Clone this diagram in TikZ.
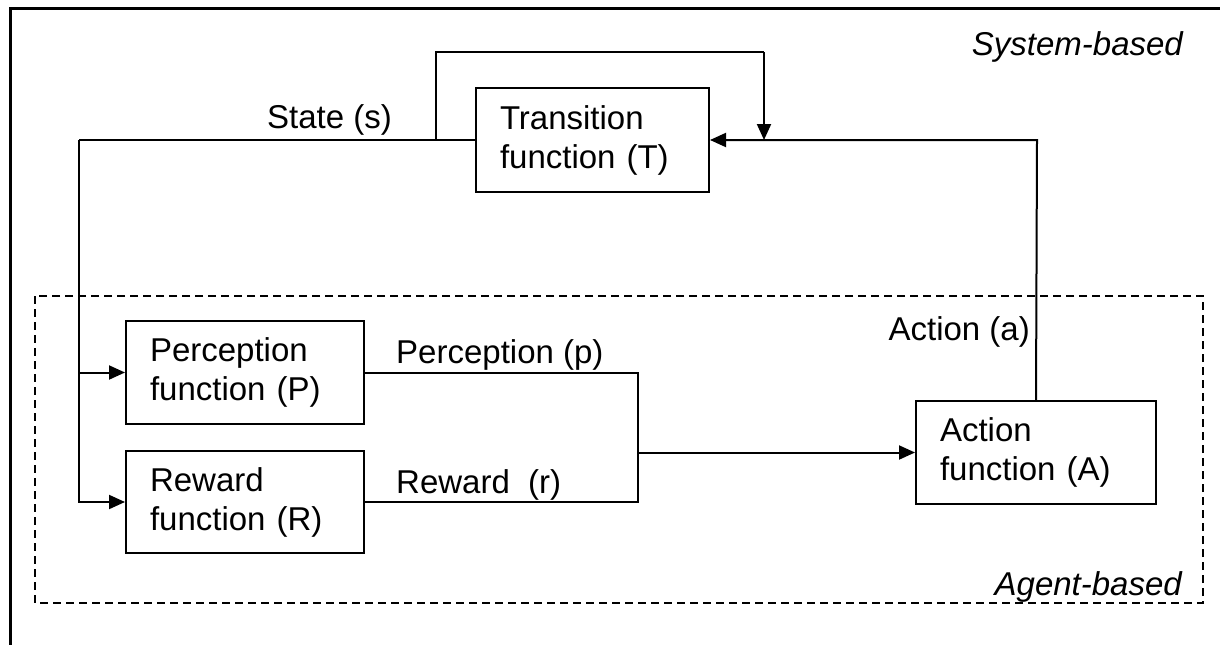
\documentclass[tikz,border=0pt]{standalone}
\usepackage{fontspec}
\setmainfont{Liberation Sans}
\usetikzlibrary{arrows.meta}
\tikzset{
  fbox/.style={draw, line width=2pt, align=left, inner xsep=24pt, inner ysep=0pt,
    font=\fontsize{33}{39}\selectfont},
  conn/.style={line width=2pt},
  arr/.style={conn, -{Triangle[length=16pt,width=14pt]}},
  lbl/.style={font=\fontsize{33}{39}\selectfont, inner sep=0pt},
  ilbl/.style={font=\fontsize{33}{39}\selectfont\itshape, inner sep=0pt},
  frame/.style={line width=3pt},
  agentbox/.style={line width=2pt, dash pattern=on 8pt off 5pt}
}
\begin{document}
\begin{tikzpicture}[x=1pt,y=-1pt]
\useasboundingbox (0,0) rectangle (1220,645);
% outer frame (top and left only)
\draw[frame] (1220,8) -- (10,8) -- (10,645);
% agent-based dashed region
\draw[agentbox] (35,296) rectangle (1203,603);
% boxes
\node[fbox, minimum width=233pt, minimum height=104pt, text width=185pt] (T) at (592.5,140) {Transition\\function (T)};
\node[fbox, minimum width=238pt, minimum height=103pt, text width=190pt] (P) at (245,372.5) {Perception\\function (P)};
\node[fbox, minimum width=238pt, minimum height=102pt, text width=190pt] (R) at (245,502) {Reward\\function (R)};
\node[fbox, minimum width=240pt, minimum height=103pt, text width=192pt] (A) at (1036,452.5) {Action\\function (A)};
% coordinates
\coordinate (sl) at (79,140);
\coordinate (lpA) at (436,140);
\coordinate (lpB) at (436,52);
\coordinate (lpC) at (764,52);
\coordinate (lpD) at (764,140);
\coordinate (ac) at (1037,140);
\coordinate (mj) at (638,452.5);
% state line
\draw[line width=2.5pt] (T.west) -- (sl);
\draw[arr] (sl) |- (R.west);
\draw[arr] (sl |- P.west) -- (P.west);
% self loop
\draw[conn] (lpA) -- (lpB) -- (lpC);
\draw[arr] (lpC) -- (lpD);
% action feedback
\draw[arr] (A.north) -- (ac) -- (T.east);
% perception and reward merge
\draw[conn] (P.east) -| (mj);
\draw[conn] (R.east) -| (mj);
\draw[arr] (mj) -- (A.west);
% labels
\node[lbl, anchor=base west] (ls) at (267,128) {State (s)};
\node[ilbl, anchor=base east] (lsys) at (1183,55) {System-based};
\node[lbl, anchor=base west] (lp) at (396,363) {Perception (p)};
\node[lbl, anchor=base west] (lr) at (396,493) {Reward~~(r)};
\node[lbl, anchor=base east] (la) at (1030,340) {Action (a)};
\node[ilbl, anchor=base east] (lag) at (1182,595) {Agent-based};
\end{tikzpicture}
\end{document}
